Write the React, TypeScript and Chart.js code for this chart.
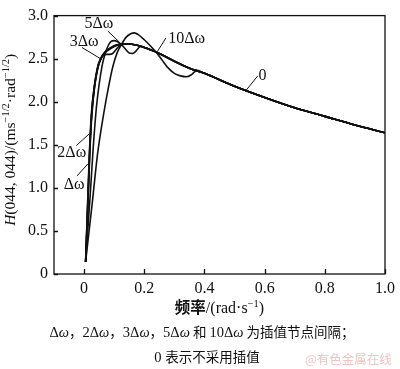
import { useEffect, useRef } from "react";
import { Chart, registerables } from "chart.js";
Chart.register(...registerables);

const X_MIN = -0.1;
const X_MAX = 1.0;
const Y_MIN = 0;
const Y_MAX = 3.0;
const xTickValues = [0, 0.2, 0.4, 0.6, 0.8, 1.0];
const xTickLabels = ["0", "0.2", "0.4", "0.6", "0.8", "1.0"];
const yTickValues = [0, 0.5, 1.0, 1.5, 2.0, 2.5, 3.0];
const yTickLabels = ["0", "0.5", "1.0", "1.5", "2.0", "2.5", "3.0"];

// curve "0" (no interpolation)
const freq0 = [0.005, 0.012, 0.018, 0.025, 0.035, 0.045, 0.055, 0.07, 0.09, 0.11, 0.13, 0.15, 0.2, 0.25, 0.3, 0.35, 0.4, 0.5, 0.6, 0.7, 0.8, 0.9, 1.0];
const h0 = [0.14, 0.78, 1.35, 1.85, 2.2, 2.4, 2.5, 2.58, 2.63, 2.66, 2.67, 2.67, 2.63, 2.56, 2.47, 2.39, 2.33, 2.18, 2.05, 1.93, 1.83, 1.73, 1.64];
// Δω
const freq1 = [0.005, 0.011, 0.017, 0.024, 0.034, 0.045, 0.055, 0.07, 0.09, 0.11, 0.13];
const h1 = [0.14, 0.75, 1.35, 1.85, 2.18, 2.4, 2.5, 2.58, 2.63, 2.66, 2.67];
// 2Δω
const freq2 = [0.005, 0.013, 0.019, 0.026, 0.036, 0.046, 0.056, 0.07, 0.09, 0.11, 0.13];
const h2 = [0.14, 0.8, 1.4, 1.85, 2.2, 2.4, 2.5, 2.57, 2.62, 2.655, 2.67];
// 3Δω
const freq3 = [0.005, 0.012, 0.018, 0.025, 0.035, 0.045, 0.055, 0.065, 0.075, 0.085, 0.095, 0.105, 0.115, 0.128, 0.14];
const h3 = [0.14, 0.8, 1.4, 1.85, 2.18, 2.38, 2.49, 2.54, 2.55, 2.55, 2.56, 2.6, 2.64, 2.665, 2.67];
// 5Δω
const freq5 = [0.005, 0.02, 0.03, 0.04, 0.05, 0.06, 0.07, 0.08, 0.09, 0.1, 0.11, 0.125, 0.14, 0.15, 0.16, 0.17, 0.18, 0.19];
const h5 = [0.14, 0.9, 1.45, 1.9, 2.2, 2.42, 2.56, 2.65, 2.7, 2.71, 2.7, 2.66, 2.6, 2.565, 2.56, 2.58, 2.62, 2.645];
// 10Δω
const freq10 = [0.005, 0.027, 0.045, 0.067, 0.08, 0.095, 0.11, 0.125, 0.14, 0.155, 0.167, 0.18, 0.2, 0.22, 0.243, 0.26, 0.28, 0.3, 0.32, 0.34, 0.355, 0.365, 0.375];
const h10 = [0.14, 0.82, 1.4, 1.9, 2.15, 2.4, 2.57, 2.67, 2.75, 2.79, 2.8, 2.78, 2.72, 2.65, 2.56, 2.48, 2.39, 2.33, 2.3, 2.29, 2.31, 2.34, 2.365];

const seriesNames = ["0", "Δω", "2Δω", "3Δω", "5Δω", "10Δω"];

// curve annotations (data coordinates)
const annotations = [
  { text: "5Δω", tx: 0.049, ty: 2.91, x1: 0.079, y1: 2.82, x2: 0.118, y2: 2.69 },
  { text: "3Δω", tx: 0.0, ty: 2.7, x1: -0.007, y1: 2.63, x2: 0.059, y2: 2.49 },
  { text: "10Δω", tx: 0.341, ty: 2.73, x1: 0.272, y1: 2.74, x2: 0.243, y2: 2.58 },
  { text: "0", tx: 0.593, ty: 2.3, x1: 0.577, y1: 2.3, x2: 0.538, y2: 2.13 },
  { text: "2Δω", tx: -0.041, ty: 1.41, x1: -0.026, y1: 1.49, x2: 0.018, y2: 1.63 },
  { text: "Δω", tx: -0.033, ty: 1.04, x1: -0.023, y1: 1.14, x2: 0.013, y2: 1.28 },
];

const SERIF = "'Liberation Serif', 'Times New Roman', serif";
const CJK = "'Noto Sans CJK SC', sans-serif";

function withTail(xs: number[], ys: number[]) {
  const pts = xs.map((x, i) => ({ x, y: ys[i] }));
  const last = xs[xs.length - 1];
  freq0.forEach((x, i) => {
    if (x > last) pts.push({ x, y: h0[i] });
  });
  return pts;
}

type Seg = { t: string; font: string; dy?: number };
function drawRich(ctx: CanvasRenderingContext2D, segs: Seg[], cx: number, baseline: number) {
  const widths = segs.map((s) => {
    ctx.font = s.font;
    return ctx.measureText(s.t).width;
  });
  const total = widths.reduce((a, b) => a + b, 0);
  let x = cx - total / 2;
  ctx.textAlign = "left";
  ctx.textBaseline = "alphabetic";
  segs.forEach((s, i) => {
    ctx.font = s.font;
    ctx.fillText(s.t, x, baseline + (s.dy || 0));
    x += widths[i];
  });
}

const decorPlugin = {
  id: "decor",
  afterDraw(chart: any) {
    const ctx: CanvasRenderingContext2D = chart.ctx;
    const { left, right, top, bottom } = chart.chartArea;
    const xs = chart.scales.x;
    const ys = chart.scales.y;
    ctx.save();
    ctx.strokeStyle = "#111";
    ctx.fillStyle = "#111";
    ctx.lineWidth = 1.3;
    ctx.strokeRect(left, top, right - left, bottom - top);
    // inward ticks
    ctx.beginPath();
    xTickValues.forEach((v) => {
      const p = Math.round(xs.getPixelForValue(v)) + 0.5;
      ctx.moveTo(p, bottom);
      ctx.lineTo(p, bottom - 5);
    });
    yTickValues.forEach((v) => {
      const p = Math.round(ys.getPixelForValue(v)) + 0.5;
      ctx.moveTo(left, p);
      ctx.lineTo(left + 4, p);
    });
    ctx.stroke();

    // annotations
    ctx.lineWidth = 1;
    annotations.forEach((a) => {
      ctx.beginPath();
      ctx.moveTo(xs.getPixelForValue(a.x1), ys.getPixelForValue(a.y1));
      ctx.lineTo(xs.getPixelForValue(a.x2), ys.getPixelForValue(a.y2));
      ctx.stroke();
      ctx.font = `16px ${SERIF}`;
      ctx.textAlign = "center";
      ctx.textBaseline = "middle";
      ctx.fillText(a.text, xs.getPixelForValue(a.tx), ys.getPixelForValue(a.ty));
    });

    // y axis title
    ctx.save();
    ctx.translate(14.5, (top + bottom) / 2 - 5);
    ctx.rotate(-Math.PI / 2);
    const f = `15.5px ${SERIF}`;
    const fi = `italic 15.5px ${SERIF}`;
    const fs = `10.5px ${SERIF}`;
    drawRich(
      ctx,
      [
        { t: "H", font: fi },
        { t: "(044, 044)/(ms", font: f },
        { t: "−1/2", font: fs, dy: -6 },
        { t: "·rad", font: f },
        { t: "−1/2", font: fs, dy: -6 },
        { t: ")", font: f },
      ],
      0,
      0
    );
    ctx.restore();

    // x axis title
    drawRich(
      ctx,
      [
        { t: "频率", font: `bold 15.5px ${CJK}` },
        { t: "/(rad·s", font: `16px ${SERIF}` },
        { t: "−1", font: `10.5px ${SERIF}`, dy: -6 },
        { t: ")", font: `16px ${SERIF}` },
      ],
      (left + right) / 2,
      313
    );

    // caption
    const cs = `14.5px ${SERIF}`;
    const ci = `italic 14.5px ${SERIF}`;
    const cc = `13.5px ${CJK}`;
    drawRich(
      ctx,
      [
        { t: "Δ", font: cs },
        { t: "ω", font: ci },
        { t: "，", font: cc },
        { t: "2Δ", font: cs },
        { t: "ω", font: ci },
        { t: "，", font: cc },
        { t: "3Δ", font: cs },
        { t: "ω", font: ci },
        { t: "，", font: cc },
        { t: "5Δ", font: cs },
        { t: "ω", font: ci },
        { t: " 和 ", font: cc },
        { t: "10Δ", font: cs },
        { t: "ω", font: ci },
        { t: " 为插值节点间隔；", font: cc },
      ],
      202,
      337
    );
    drawRich(
      ctx,
      [
        { t: "0 ", font: cs },
        { t: "表示不采用插值", font: cc },
      ],
      207,
      362
    );
    // watermark
    ctx.fillStyle = "#f0c4c4";
    ctx.font = `12.5px ${CJK}`;
    ctx.textAlign = "left";
    ctx.textBaseline = "alphabetic";
    ctx.fillText("@有色金属在线", 305, 364);
    ctx.restore();
  },
};

export default function App() {
  const ref = useRef<HTMLCanvasElement>(null);
  useEffect(() => {
    if (!ref.current) return;
    const all = [
      withTail(freq0, h0),
      withTail(freq1, h1),
      withTail(freq2, h2),
      withTail(freq3, h3),
      withTail(freq5, h5),
      withTail(freq10, h10),
    ];
    const chart = new Chart(ref.current, {
      type: "line",
      data: {
        datasets: all.map((pts, i) => ({
          label: seriesNames[i],
          data: pts,
          borderColor: "#111",
          borderWidth: 1.6,
          pointRadius: 0,
          fill: false,
          cubicInterpolationMode: "monotone" as const,
        })),
      },
      options: {
        responsive: false,
        animation: false,
        events: [],
        layout: { padding: { top: 4, right: 11, left: 0, bottom: 0 } },
        plugins: { legend: { display: false }, tooltip: { enabled: false }, title: { display: false } },
        scales: {
          x: {
            type: "linear",
            min: X_MIN,
            max: X_MAX,
            grid: { display: false, drawTicks: false },
            border: { display: false },
            afterBuildTicks: (s: any) => {
              s.ticks = xTickValues.map((v) => ({ value: v }));
            },
            afterFit: (s: any) => {
              s.height = 95;
            },
            ticks: {
              padding: 5,
              color: "#111",
              font: { family: SERIF, size: 16 },
              maxRotation: 0,
              autoSkip: false,
              callback: (v: any) => {
                const i = xTickValues.findIndex((t) => Math.abs(t - Number(v)) < 1e-9);
                return i >= 0 ? xTickLabels[i] : "";
              },
            },
          },
          y: {
            type: "linear",
            min: Y_MIN,
            max: Y_MAX,
            grid: { display: false, drawTicks: false },
            border: { display: false },
            afterBuildTicks: (s: any) => {
              s.ticks = yTickValues.map((v) => ({ value: v }));
            },
            afterFit: (s: any) => {
              s.width = 54;
            },
            ticks: {
              padding: 6,
              color: "#111",
              font: { family: SERIF, size: 16 },
              autoSkip: false,
              callback: (v: any) => {
                const i = yTickValues.findIndex((t) => Math.abs(t - Number(v)) < 1e-9);
                return i >= 0 ? yTickLabels[i] : "";
              },
            },
          },
        },
      },
      plugins: [decorPlugin],
    });
    return () => chart.destroy();
  }, []);
  return (
    <div style={{ position: "absolute", left: 0, top: 0, width: 400, height: 369, background: "#fff" }}>
      <canvas ref={ref} width={400} height={369} style={{ width: 400, height: 369, display: "block" }} />
    </div>
  );
}
